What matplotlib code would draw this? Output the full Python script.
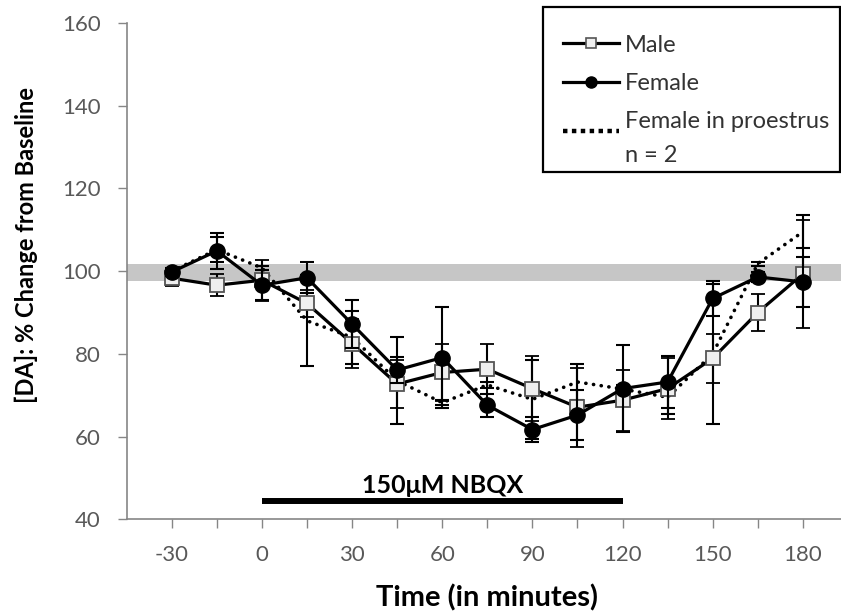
import matplotlib.pyplot as plt
from matplotlib.lines import Line2D
from matplotlib.patches import Rectangle

plt.rcParams['font.family'] = ['Lato', 'DejaVu Sans']
plt.rcParams['axes.unicode_minus'] = False

##### DATA #####
time_min = [-30, -15, 0, 15, 30, 45, 60, 75, 90, 105, 120, 135, 150, 165, 180]
male = [98.3, 96.6, 97.8, 92.2, 82.5, 72.7, 75.5, 76.3, 71.6, 67.1, 68.8, 71.6, 78.9, 90.0, 99.3]
male_err = [2.0, 2.7, 5.0, 3.3, 6.0, 5.8, 6.8, 6.0, 7.8, 9.5, 7.4, 7.3, 6.0, 4.5, 13.0]
female = [99.8, 104.9, 96.6, 98.4, 87.2, 76.1, 79.1, 67.6, 61.7, 65.2, 71.6, 73.2, 93.4, 98.6, 97.4]
female_err = [1.0, 4.3, 3.6, 3.7, 5.8, 3.2, 12.2, 2.8, 3.0, 6.0, 10.5, 6.3, 4.2, 1.2, 6.0]
proestrus = [100.0, 105.2, 100.8, 88.0, 84.0, 73.5, 68.2, 72.5, 69.0, 73.2, 71.5, 69.5, 80.0, 101.8, 109.5]
proestrus_err = [0.5, 3.0, 0.5, 11.0, 6.4, 10.5, 0.6, 0.8, 9.5, 4.3, 1.0, 4.0, 17.0, 0.5, 4.0]

baseline_lo, baseline_hi = 97.7, 101.7
nbqx_start, nbqx_end, nbqx_y = 0, 120, 44.35
nbqx_label = "150\u03bcM NBQX"

x_major = [-30, 0, 30, 60, 90, 120, 150, 180]
x_minor = [-15, 15, 45, 75, 105, 135, 165]
y_ticks = [40, 60, 80, 100, 120, 140, 160]

##### PLOT #####
W, H = 841, 615
fig = plt.figure(figsize=(W / 100, H / 100), dpi=100)
ax = fig.add_axes([126.7 / W, (H - 519.3) / H, 1 - 126.7 / W, (519.3 - 23) / H])

axis_grey = '#868686'
text_grey = '#595959'

ax.axhspan(baseline_lo, baseline_hi, color='#c6c6c6', lw=0, zorder=0)

err_kw = dict(ecolor='black', elinewidth=1.5, capsize=4.8, capthick=1.5)
ax.errorbar(time_min, proestrus, yerr=proestrus_err, color='black', lw=2.6,
            linestyle=(0, (0.05, 2.1)), dash_capstyle='round', zorder=2, **err_kw)
ax.errorbar(time_min, male, yerr=male_err, color='black', lw=2.3, marker='s', ms=9.5,
            mfc='#efefef', mec='#555555', mew=1.3, zorder=3, **err_kw)
ax.errorbar(time_min, female, yerr=female_err, color='black', lw=2.3, marker='o', ms=11,
            mfc='black', mec='black', zorder=4, **err_kw)

# NBQX bar
ax.plot([nbqx_start, nbqx_end], [nbqx_y, nbqx_y], color='black', lw=4.3,
        solid_capstyle='butt', clip_on=False)
ax.text((nbqx_start + nbqx_end) / 2, 46.3, nbqx_label, ha='center', va='baseline',
        fontsize=18, fontweight='bold', color='black')

ax.set_xlim(-45, 192.7)
ax.set_ylim(40, 160)
ax.set_xticks(x_major)
ax.set_xticks(x_minor, minor=True)
ax.set_yticks(y_ticks)
ax.tick_params(axis='both', which='both', direction='out', length=6.5, width=1,
               color=axis_grey, labelcolor=text_grey, labelsize=16, pad=12)
for s in ['top', 'right']:
    ax.spines[s].set_visible(False)
for s in ['left', 'bottom']:
    ax.spines[s].set_color(axis_grey)
    ax.spines[s].set_linewidth(1.2)

ax.set_xlabel("Time (in minutes)", fontsize=21, fontweight='bold')
ax.xaxis.set_label_coords(0.504, -0.13)
ax.set_ylabel("[DA]: % Change from Baseline", fontsize=17, fontweight='bold')
ax.yaxis.set_label_coords(-0.124, 0.553)

# Legend box drawn in figure pixels
def fx(px):
    return px / W

def fy(py):
    return 1 - py / H

fig.add_artist(Rectangle((fx(543), fy(172)), fx(840) - fx(543), fy(7) - fy(172),
                         transform=fig.transFigure, fill=True, fc='white', ec='black', lw=1.6))
fig.add_artist(Line2D([fx(563), fx(619)], [fy(43), fy(43)], transform=fig.transFigure,
                      color='black', lw=2.3))
fig.add_artist(Line2D([fx(591)], [fy(43)], transform=fig.transFigure, marker='s', ms=7.5,
                      mfc='#efefef', mec='#555555', mew=1.2))
fig.add_artist(Line2D([fx(563), fx(619)], [fy(82), fy(82)], transform=fig.transFigure,
                      color='black', lw=2.3))
fig.add_artist(Line2D([fx(591)], [fy(82)], transform=fig.transFigure, marker='o', ms=8,
                      mfc='black', mec='black'))
fig.add_artist(Line2D([fx(563), fx(619)], [fy(131), fy(131)], transform=fig.transFigure,
                      color='black', lw=3.2, linestyle=(0, (1, 1))))
leg_font = dict(fontsize=17, color='#333333', va='baseline', ha='left')
fig.text(fx(625), fy(51.5), "Male", **leg_font)
fig.text(fx(625), fy(90), "Female", **leg_font)
fig.text(fx(625), fy(128), "Female in proestrus", **leg_font)
fig.text(fx(625), fy(161.5), "n = 2", **leg_font)

fig.savefig('out.png', dpi=100)
